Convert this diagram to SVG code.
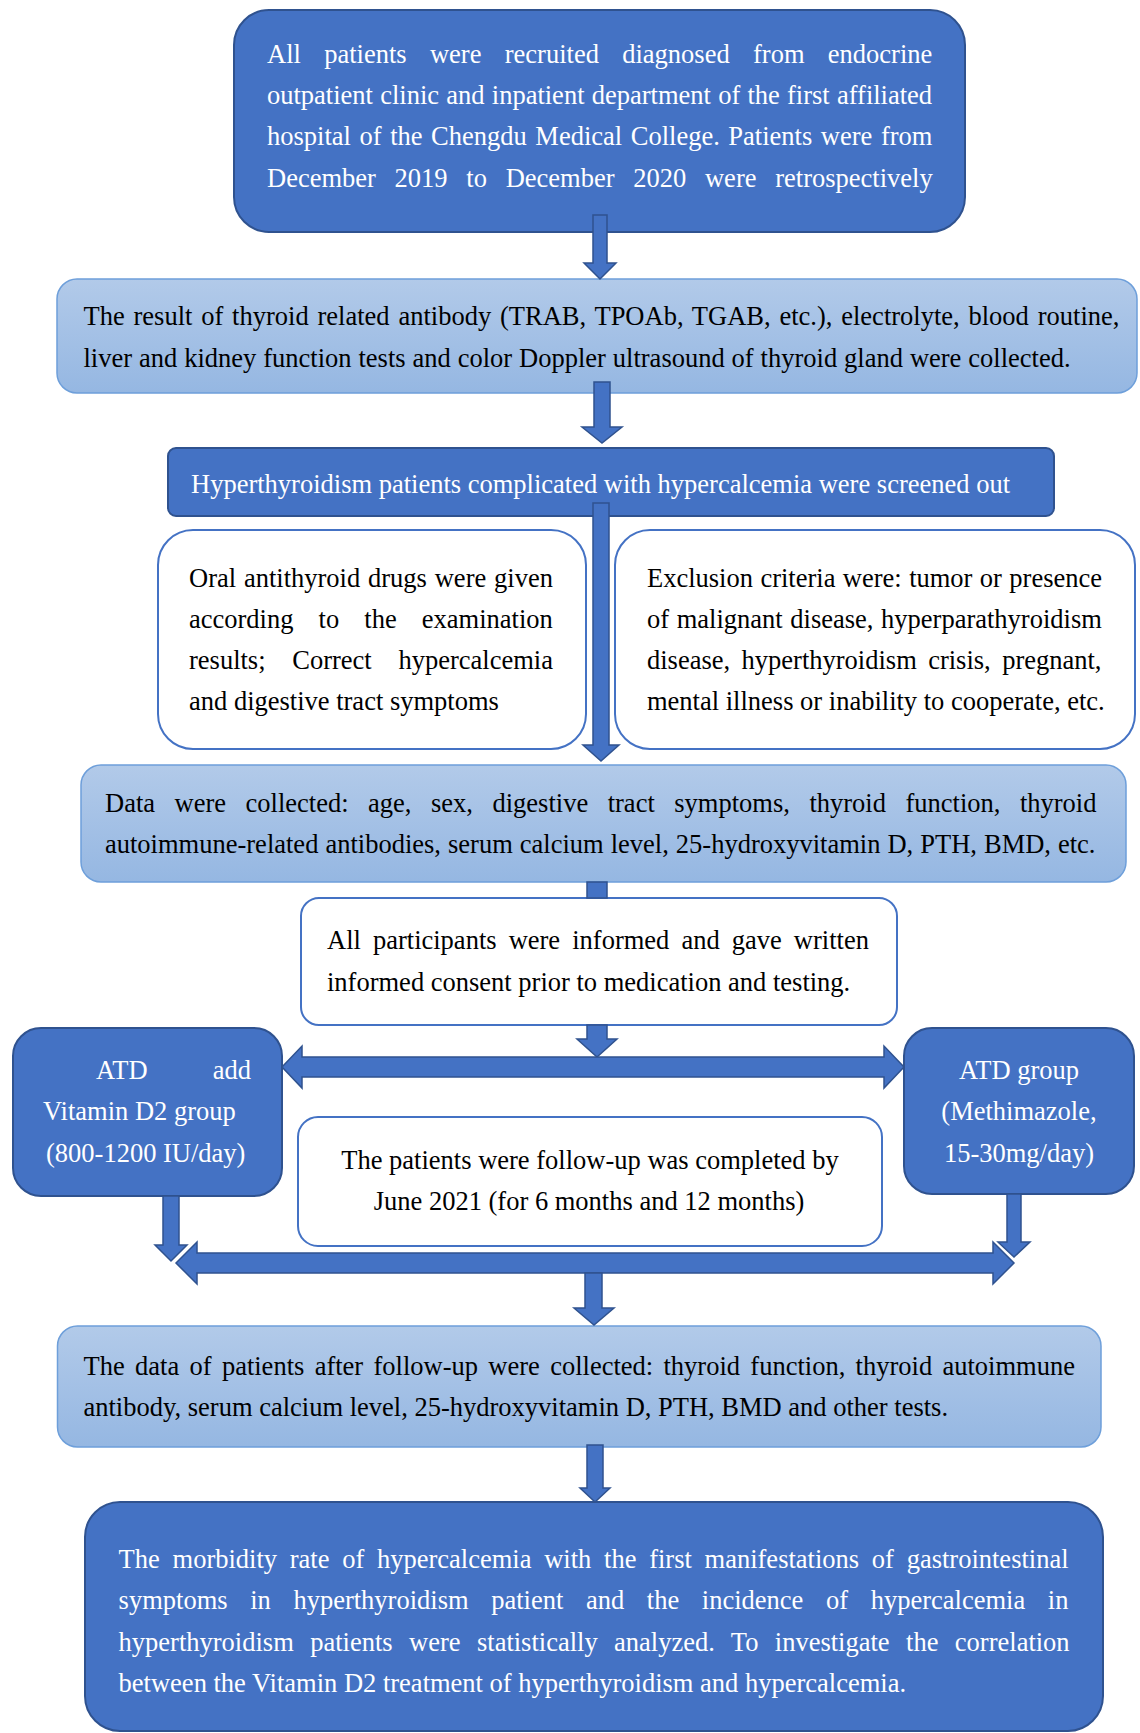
<svg xmlns="http://www.w3.org/2000/svg" width="1140" height="1733" viewBox="0 0 1140 1733">
<defs>
<linearGradient id="lg" x1="0" y1="0" x2="0" y2="1">
<stop offset="0" stop-color="#B2CAE9"/>
<stop offset="1" stop-color="#95B7E2"/>
</linearGradient>
</defs>
<style>
.dark{fill:#4472C4;stroke:#2F528F;stroke-width:2}
.light{fill:url(#lg);stroke:#6E9FDA;stroke-width:1.5}
.white{fill:#FFFFFF;stroke:#4472C4;stroke-width:2}
.arrow{fill:#4472C4;stroke:#2F528F;stroke-width:1.5}
.t{font-family:"Liberation Serif","Times New Roman",serif;font-size:26.5px;fill:#000000}
.w{fill:#FFFFFF}
.c{text-anchor:middle}
</style>
<rect width="1140" height="1733" fill="#FFFFFF"/>

<g id="n1">
<rect class="dark" x="234" y="10" width="731" height="222" rx="35"/>
<text class="t w" x="267" y="63" style="word-spacing:16.7px">All patients were recruited diagnosed from endocrine</text>
<text class="t w" x="267" y="104" style="word-spacing:0.6px">outpatient clinic and inpatient department of the first affiliated</text>
<text class="t w" x="267" y="145" style="word-spacing:1.95px">hospital of the Chengdu Medical College. Patients were from</text>
<text class="t w" x="267" y="187" style="word-spacing:12.1px">December 2019 to December 2020 were retrospectively</text>
</g>

<g id="n2">
<rect class="light" x="57" y="279" width="1080" height="114" rx="20"/>
<text class="t" x="83.5" y="325" style="word-spacing:2.2px">The result of thyroid related antibody (TRAB, TPOAb, TGAB, etc.), electrolyte, blood routine,</text>
<text class="t" x="83.5" y="367" style="word-spacing:0.3px">liver and kidney function tests and color Doppler ultrasound of thyroid gland were collected.</text>
</g>

<g id="n3">
<rect class="dark" x="168" y="448" width="886" height="68" rx="8"/>
<text class="t w" x="191" y="493">Hyperthyroidism patients complicated with hypercalcemia were screened out</text>
</g>

<g id="n4">
<rect class="white" x="158" y="530" width="428" height="219" rx="35"/>
<text class="t" x="189" y="587" style="word-spacing:1.2px">Oral antithyroid drugs were given</text>
<text class="t" x="189" y="628" style="word-spacing:18.5px">according to the examination</text>
<text class="t" x="189" y="669" style="word-spacing:20.1px">results; Correct hypercalcemia</text>
<text class="t" x="189" y="710">and digestive tract symptoms</text>
</g>

<g id="n5">
<rect class="white" x="615" y="530" width="520" height="219" rx="35"/>
<text class="t" x="647" y="587" style="word-spacing:0.8px">Exclusion criteria were: tumor or presence</text>
<text class="t" x="647" y="628" style="word-spacing:1px">of malignant disease, hyperparathyroidism</text>
<text class="t" x="647" y="669" style="word-spacing:4.8px">disease, hyperthyroidism crisis, pregnant,</text>
<text class="t" x="647" y="710">mental illness or inability to cooperate, etc.</text>
</g>

<g id="n6">
<rect class="light" x="81" y="765" width="1045" height="117" rx="20"/>
<text class="t" x="105" y="812" style="word-spacing:12.9px">Data were collected: age, sex, digestive tract symptoms, thyroid function, thyroid</text>
<text class="t" x="105" y="853" style="word-spacing:0.4px">autoimmune-related antibodies, serum calcium level, 25-hydroxyvitamin D, PTH, BMD, etc.</text>
</g>

<g id="n7">
<rect class="white" x="301" y="898" width="596" height="127" rx="18"/>
<text class="t" x="327" y="949" style="word-spacing:5.45px">All participants were informed and gave written</text>
<text class="t" x="327" y="991">informed consent prior to medication and testing.</text>
</g>

<g id="n8">
<rect class="dark" x="13" y="1028" width="269" height="168" rx="28"/>
<text class="t w" x="96" y="1079">ATD</text>
<text class="t w" x="251" y="1079" text-anchor="end">add</text>
<text class="t w" x="43" y="1120">Vitamin D2 group</text>
<text class="t w" x="46" y="1162">(800-1200 IU/day)</text>
</g>

<g id="n9">
<rect class="dark" x="904" y="1028" width="230" height="166" rx="28"/>
<text class="t w c" x="1019" y="1079">ATD group</text>
<text class="t w c" x="1019" y="1120">(Methimazole,</text>
<text class="t w c" x="1019" y="1162">15-30mg/day)</text>
</g>

<g id="n10">
<rect class="white" x="298" y="1117" width="584" height="129" rx="20"/>
<text class="t c" x="590" y="1169">The patients were follow-up was completed by</text>
<text class="t c" x="589" y="1210">June 2021 (for 6 months and 12 months)</text>
</g>

<g id="n11">
<rect class="light" x="57.5" y="1326" width="1043.5" height="121" rx="20"/>
<text class="t" x="83.5" y="1375" style="word-spacing:3.7px">The data of patients after follow-up were collected: thyroid function, thyroid autoimmune</text>
<text class="t" x="83.5" y="1416">antibody, serum calcium level, 25-hydroxyvitamin D, PTH, BMD and other tests.</text>
</g>

<g id="n12">
<rect class="dark" x="85" y="1502" width="1018" height="229" rx="35"/>
<text class="t w" x="118.6" y="1568" style="word-spacing:6.1px">The morbidity rate of hypercalcemia with the first manifestations of gastrointestinal</text>
<text class="t w" x="118.6" y="1609" style="word-spacing:16px">symptoms in hyperthyroidism patient and the incidence of hypercalcemia in</text>
<text class="t w" x="118.6" y="1651" style="word-spacing:9.8px">hyperthyroidism patients were statistically analyzed. To investigate the correlation</text>
<text class="t w" x="118.6" y="1692">between the Vitamin D2 treatment of hyperthyroidism and hypercalcemia.</text>
</g>

<g id="connectors">
<polygon class="arrow" points="593,215 607,215 607,263 616,263 600,279 584,263 593,263"/>
<polygon class="arrow" points="594,382 610,382 610,427 622,427 602,443 582,427 594,427"/>
<polygon class="arrow" points="593,503 609,503 609,745 619,745 601,761 583,745 593,745"/>
<rect class="arrow" x="587" y="882" width="20" height="16"/>
<polygon class="arrow" points="587,1025 607,1025 607,1039 617,1039 597,1057 577,1039 587,1039"/>
<polygon class="arrow" points="282,1067 302,1046 302,1057 884,1057 884,1046 904,1067 884,1088 884,1077 302,1077 302,1088"/>
<polygon class="arrow" points="163,1196 179,1196 179,1245 187,1245 171,1261 155,1245 163,1245"/>
<polygon class="arrow" points="1007,1194 1021,1194 1021,1242 1030,1242 1014,1257 998,1242 1007,1242"/>
<polygon class="arrow" points="176,1263 197,1242 197,1253 993,1253 993,1242 1014,1263 993,1284 993,1273 197,1273 197,1284"/>
<polygon class="arrow" points="585,1273 602,1273 602,1308 614,1308 594,1325 574,1308 585,1308"/>
<polygon class="arrow" points="587,1445 603,1445 603,1488 610,1488 595,1502 580,1488 587,1488"/>
</g>
</svg>
